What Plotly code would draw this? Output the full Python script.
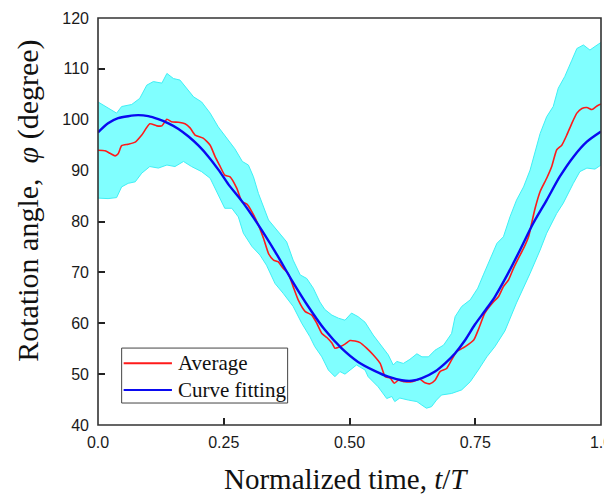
import plotly.graph_objects as go

# ---- data ----
upper_x = [0.000, 0.020, 0.037, 0.047, 0.067, 0.083, 0.097, 0.110, 0.127, 0.137, 0.150, 0.163, 0.176, 0.190,
           0.206, 0.223, 0.239, 0.256, 0.272, 0.287, 0.299, 0.309, 0.319, 0.339, 0.355, 0.375, 0.388, 0.402,
           0.415, 0.428, 0.441, 0.451, 0.465, 0.478, 0.491, 0.504, 0.517, 0.531, 0.547, 0.564, 0.577, 0.587,
           0.594, 0.607, 0.620, 0.634, 0.644, 0.657, 0.670, 0.687, 0.703, 0.710, 0.723, 0.740, 0.755, 0.766,
           0.779, 0.793, 0.806, 0.819, 0.832, 0.846, 0.859, 0.869, 0.879, 0.892, 0.905, 0.915, 0.928, 0.942,
           0.952, 0.965, 0.978, 0.988, 1.000]
upper_y = [103.5, 102.4, 101.3, 102.6, 103.0, 104.2, 106.8, 107.5, 107.2, 109.1, 108.1, 107.8, 106.2, 104.5,
           103.5, 101.3, 98.6, 96.5, 94.3, 91.8, 91.1, 88.8, 85.5, 80.3, 78.3, 76.0, 72.4, 69.5,
           68.8, 66.9, 64.2, 62.7, 61.6, 61.0, 60.6, 62.0, 61.3, 60.2, 57.7, 55.4, 53.8, 51.8,
           52.5, 52.1, 52.9, 54.0, 53.4, 53.4, 54.7, 55.7, 58.0, 61.3, 63.3, 64.6, 66.9, 69.5,
           72.5, 75.7, 77.0, 80.9, 84.2, 86.8, 90.1, 93.7, 97.3, 100.6, 102.6, 106.2, 108.5, 111.7,
           114.0, 114.7, 113.7, 114.4, 115.2]

lower_x = [0.000, 0.020, 0.037, 0.047, 0.060, 0.074, 0.087, 0.103, 0.120, 0.137, 0.153, 0.170, 0.186, 0.206,
           0.223, 0.239, 0.252, 0.266, 0.279, 0.289, 0.306, 0.322, 0.335, 0.352, 0.368, 0.388, 0.405, 0.421,
           0.431, 0.445, 0.458, 0.471, 0.481, 0.491, 0.501, 0.514, 0.531, 0.537, 0.557, 0.574, 0.584, 0.590,
           0.600, 0.617, 0.634, 0.644, 0.653, 0.663, 0.673, 0.683, 0.703, 0.723, 0.740, 0.756, 0.773, 0.789,
           0.809, 0.832, 0.859, 0.879, 0.892, 0.912, 0.925, 0.945, 0.958, 0.972, 0.988, 1.000]
lower_y = [84.6, 84.5, 84.7, 86.8, 87.5, 87.8, 89.5, 90.8, 90.5, 91.1, 90.8, 91.8, 90.8, 89.8,
           88.5, 85.2, 82.6, 82.6, 80.9, 77.7, 75.1, 73.4, 71.4, 67.8, 65.9, 63.3, 60.0, 57.4,
           55.4, 53.4, 50.8, 49.5, 50.5, 50.0, 50.8, 51.8, 50.8, 49.5, 47.5, 45.2, 45.6, 44.6,
           45.3, 44.9, 44.6, 43.9, 43.3, 43.6, 44.9, 45.9, 46.2, 46.9, 48.5, 50.8, 53.4, 55.4,
           58.5, 64.0, 69.8, 74.4, 77.7, 81.6, 83.6, 87.5, 89.8, 90.5, 90.3, 91.1]

avg_x = [0.000, 0.014, 0.024, 0.034, 0.040, 0.047, 0.060, 0.074, 0.087, 0.103, 0.117, 0.127, 0.137, 0.146,
         0.160, 0.173, 0.183, 0.193, 0.209, 0.223, 0.233, 0.243, 0.252, 0.262, 0.276, 0.286, 0.296, 0.306,
         0.319, 0.329, 0.339, 0.349, 0.358, 0.368, 0.378, 0.388, 0.398, 0.412, 0.425, 0.435, 0.445, 0.455,
         0.465, 0.471, 0.481, 0.491, 0.501, 0.511, 0.521, 0.534, 0.547, 0.561, 0.571, 0.581, 0.589, 0.597,
         0.610, 0.624, 0.640, 0.650, 0.660, 0.670, 0.680, 0.693, 0.703, 0.713, 0.730, 0.747, 0.756, 0.769,
         0.786, 0.796, 0.806, 0.816, 0.826, 0.836, 0.846, 0.856, 0.862, 0.869, 0.879, 0.892, 0.902, 0.912,
         0.922, 0.932, 0.942, 0.952, 0.962, 0.972, 0.982, 0.992, 1.000]
avg_y = [94.0, 93.9, 93.4, 92.9, 93.3, 94.9, 95.2, 95.6, 97.0, 99.2, 98.8, 98.8, 100.1, 99.6,
         99.5, 99.2, 98.4, 97.0, 96.4, 95.0, 92.7, 90.8, 89.1, 88.8, 86.5, 83.9, 83.4, 81.9,
         79.3, 76.7, 73.7, 72.4, 72.1, 70.8, 69.8, 67.2, 64.6, 62.3, 61.6, 60.0, 58.0, 57.2,
         56.1, 55.1, 55.4, 55.9, 56.6, 56.5, 56.2, 55.1, 53.8, 52.1, 49.5, 49.2, 48.2, 48.8,
         48.5, 48.5, 49.0, 48.3, 48.1, 48.8, 50.5, 51.1, 52.8, 54.4, 55.4, 56.7, 58.7, 62.0,
         64.2, 65.2, 67.2, 68.5, 70.8, 72.8, 74.7, 77.0, 79.6, 82.6, 85.9, 88.5, 90.8, 94.1,
         95.0, 97.0, 99.3, 101.3, 102.2, 102.4, 102.0, 102.7, 103.1]

fit_x = [0.00, 0.02, 0.04, 0.06, 0.08, 0.10, 0.12, 0.14, 0.16, 0.18, 0.20, 0.22, 0.24, 0.26, 0.286,
         0.319, 0.352, 0.385, 0.418, 0.451, 0.484, 0.517, 0.551, 0.577, 0.604, 0.624, 0.644, 0.670,
         0.690, 0.710, 0.730, 0.749, 0.769, 0.789, 0.812, 0.839, 0.865, 0.892, 0.918, 0.945, 0.972, 1.00]
fit_y = [97.5, 99.3, 100.3, 100.7, 100.9, 100.7, 100.1, 99.3, 98.2, 96.7, 94.9, 92.7, 90.1, 87.2, 84.0,
         79.3, 74.1, 68.5, 63.3, 58.7, 55.1, 52.4, 50.6, 49.5, 48.8, 48.7, 49.2, 50.5,
         52.1, 54.1, 56.7, 59.7, 62.4, 65.2, 69.2, 74.4, 79.6, 84.2, 88.8, 92.7, 95.7, 97.7]

x_ticks = [0.0, 0.25, 0.5, 0.75, 1.0]
x_ticktext = ["0.0", "0.25", "0.50", "0.75", "1.0"]
y_ticks = [40, 50, 60, 70, 80, 90, 100, 110, 120]

series_names = ["Average", "Curve fitting"]
RED = "#FF1A1A"
BLUE = "#0A0AF0"

fig = go.Figure()

band_x = upper_x + lower_x[::-1]
band_y = upper_y + lower_y[::-1]
fig.add_trace(go.Scatter(x=band_x, y=band_y, mode="lines", fill="toself",
                         fillcolor="#80FFFF", line=dict(color="#3FEFF5", width=1),
                         showlegend=False, hoverinfo="skip"))
fig.add_trace(go.Scatter(x=avg_x, y=avg_y, mode="lines", name=series_names[0], showlegend=False,
                         line=dict(color=RED, width=1.6, shape="spline", smoothing=0.5)))
fig.add_trace(go.Scatter(x=fit_x, y=fit_y, mode="lines", name=series_names[1], showlegend=False,
                         line=dict(color=BLUE, width=2.4, shape="spline", smoothing=0.8)))

tick_font = dict(family="Liberation Sans, Arial, sans-serif", size=16, color="#1a1a1a")
serif = "Liberation Serif, Times New Roman, serif"

# custom legend (box, sample lines, labels) in paper coordinates
leg_box = dict(x0=0.047, x1=0.377, y0=0.054, y1=0.189)
leg_rows_y = [0.152, 0.086]
leg_colors = [RED, BLUE]
shapes = [dict(type="rect", xref="paper", yref="paper", fillcolor="white",
               line=dict(color="#444444", width=1), layer="above", **leg_box)]
annotations = []
for name, yy, col in zip(series_names, leg_rows_y, leg_colors):
    shapes.append(dict(type="line", xref="paper", yref="paper", x0=0.051, x1=0.147, y0=yy, y1=yy,
                       line=dict(color=col, width=2), layer="above"))
    annotations.append(dict(text=name, xref="paper", yref="paper", x=0.155, y=yy,
                            xanchor="left", yanchor="middle", showarrow=False,
                            font=dict(family=serif, size=21, color="#111111")))

# axis titles
annotations.append(dict(text="Rotation angle,  <i>φ</i> (degree)", xref="paper", yref="paper",
                        x=-0.138, y=0.55, xanchor="center", yanchor="middle", textangle=-90,
                        showarrow=False, font=dict(family=serif, size=30, color="#111111")))
annotations.append(dict(text="Normalized time, <i>t</i>/<i>T</i>", xref="paper", yref="paper",
                        x=0.494, y=-0.133, xanchor="center", yanchor="middle",
                        showarrow=False, font=dict(family=serif, size=29, color="#111111")))

# plot frame on top of the band
shapes.append(dict(type="rect", xref="paper", yref="paper", x0=0, y0=0, x1=1, y1=1,
                   line=dict(color="#333333", width=1.6), layer="above"))

# the page adds an 8px body margin, so the figure is offset by 8px
fig.update_layout(
    width=604, height=487,
    margin=dict(l=90, r=11, t=10, b=70, autoexpand=False),
    paper_bgcolor="white", plot_bgcolor="white",
    showlegend=False,
    xaxis=dict(range=[0, 1], tickvals=x_ticks, ticktext=x_ticktext, automargin=False,
               ticks="inside", ticklen=7, tickwidth=1.5, tickcolor="#222222",
               showline=False, showgrid=False, zeroline=False, layer="below traces",
               tickfont=tick_font, ticklabelstandoff=6, ticklabeloverflow="allow"),
    yaxis=dict(range=[40, 120], tickvals=y_ticks, automargin=False,
               ticks="inside", ticklen=7, tickwidth=1.5, tickcolor="#222222",
               showline=False, showgrid=False, zeroline=False, layer="below traces",
               tickfont=tick_font, ticklabelstandoff=8, ticklabeloverflow="allow"),
    shapes=shapes,
    annotations=annotations,
)

fig.write_html("out.html")
